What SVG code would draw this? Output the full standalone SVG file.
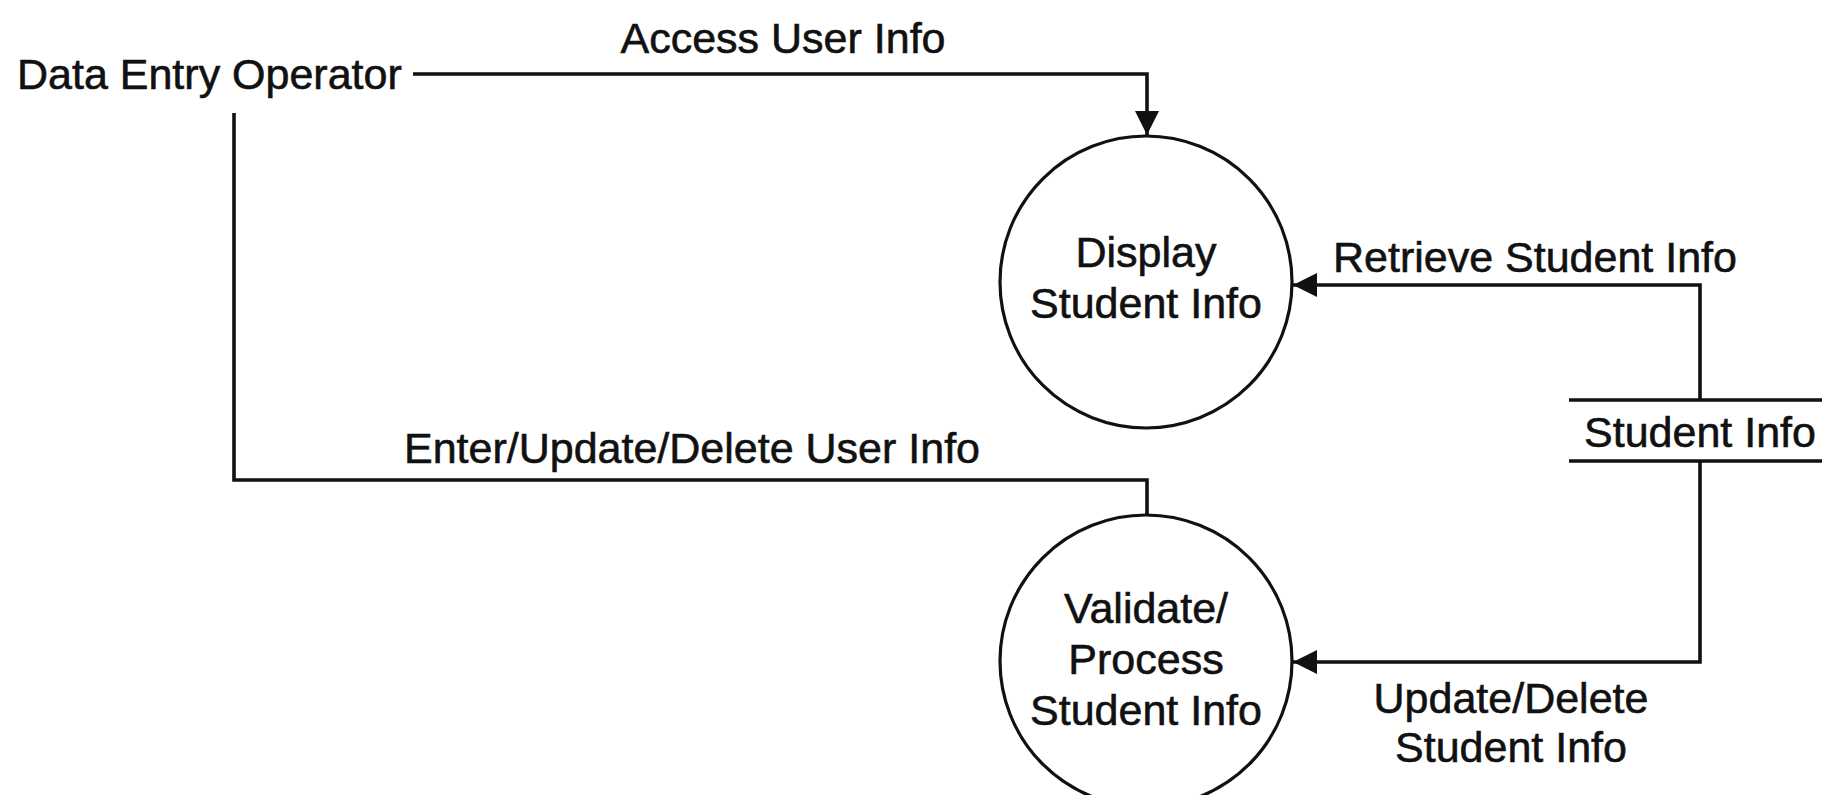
<svg xmlns="http://www.w3.org/2000/svg" width="1822" height="795" viewBox="0 0 1822 795">
<style>
text{font-family:"Liberation Sans",Arial,Helvetica,sans-serif;font-size:43px;fill:#111;stroke:#111;stroke-width:0.6;}
.m{text-anchor:middle;}
.ln{fill:none;stroke:#111;stroke-width:3.6;}
.proc{fill:#fff;stroke:#111;stroke-width:3.2;}
</style>
<defs>
<marker id="arr" markerUnits="userSpaceOnUse" markerWidth="26" markerHeight="26" refX="24" refY="12" orient="auto">
<path d="M0,0 L24,12 L0,24 Z" fill="#111"/>
</marker>
</defs>
<rect width="1822" height="795" fill="#fff"/>
<g id="connectors">
<path class="ln" d="M413,74 H1147 V135" marker-end="url(#arr)"/>
<path class="ln" d="M1700,400 V285 H1293" marker-end="url(#arr)"/>
<path class="ln" d="M1700,461 V662 H1293" marker-end="url(#arr)"/>
<path class="ln" d="M234,113 V480 H1147 V515"/>
<text class="m" x="783" y="53">Access User Info</text>
<text class="m" x="1535" y="272">Retrieve Student Info</text>
<text class="m" x="692" y="463">Enter/Update/Delete User Info</text>
<text class="m" x="1511" y="713">Update/Delete</text>
<text class="m" x="1511" y="762">Student Info</text>
</g>
<g id="data-entry-operator">
<text x="17" y="89">Data Entry Operator</text>
</g>
<g id="display-student-info">
<circle class="proc" cx="1146" cy="282" r="146"/>
<text class="m" x="1146" y="267">Display</text>
<text class="m" x="1146" y="318">Student Info</text>
</g>
<g id="validate-process-student-info">
<circle class="proc" cx="1146" cy="661" r="146"/>
<text class="m" x="1146" y="623">Validate/</text>
<text class="m" x="1146" y="674">Process</text>
<text class="m" x="1146" y="725">Student Info</text>
</g>
<g id="student-info-store">
<line class="ln" x1="1569" y1="400" x2="1822" y2="400"/>
<line class="ln" x1="1569" y1="461" x2="1822" y2="461"/>
<text class="m" x="1700" y="447">Student Info</text>
</g>
</svg>
